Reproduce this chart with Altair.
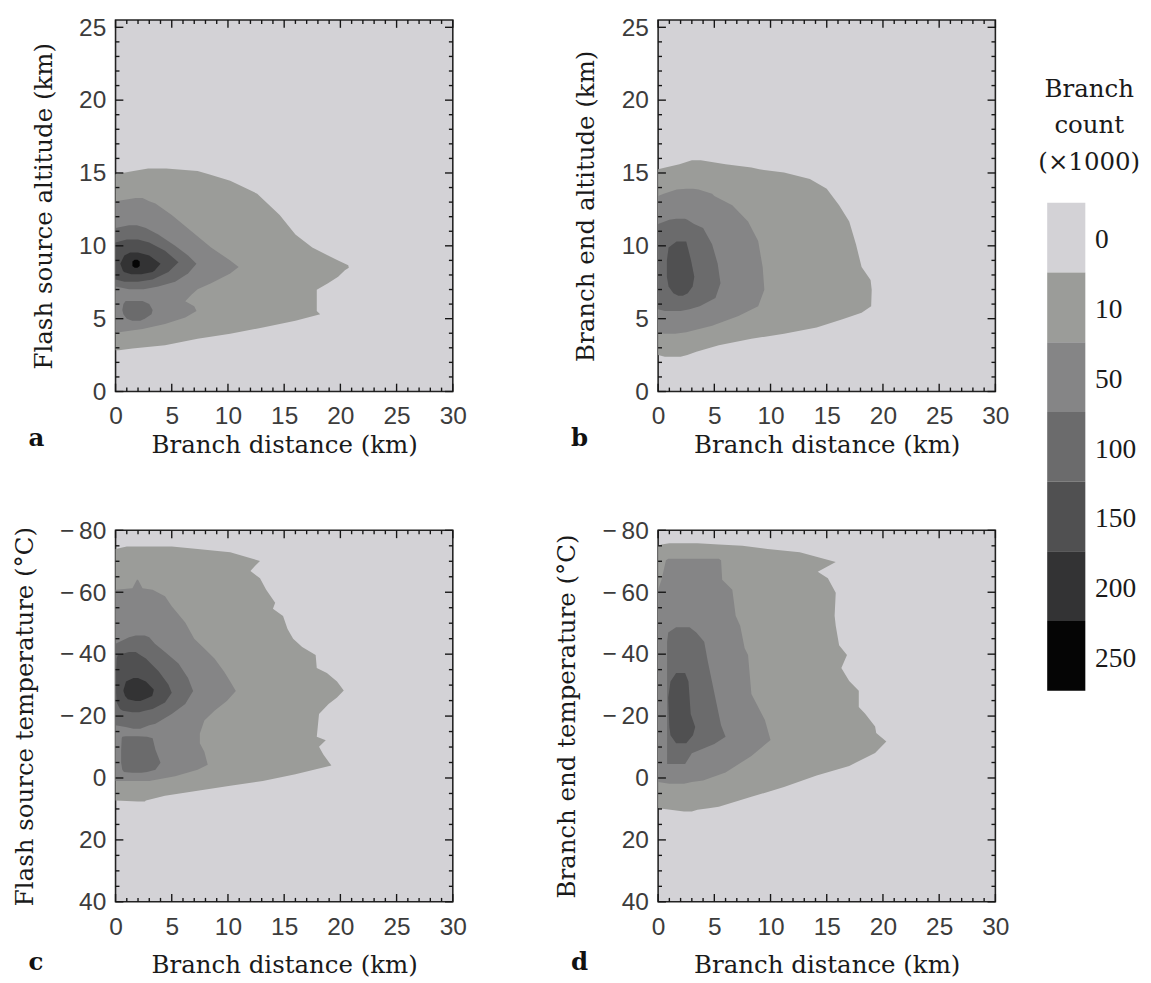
import altair as alt
import pandas as pd

# ---------------- data ----------------
LEVEL_LABELS = ["0", "10", "50", "100", "150", "200", "250"]
LEVEL_COLORS = ["#d3d2d6", "#9b9c99", "#858586", "#6b6b6c", "#505051", "#333334", "#050505"]

X_MAJOR = [0, 5, 10, 15, 20, 25, 30]
X_MINOR = [1, 2, 3, 4, 6, 7, 8, 9, 11, 12, 13, 14, 16, 17, 18, 19, 21, 22, 23, 24, 26, 27, 28, 29]
ALT_MAJOR = [0, 5, 10, 15, 20, 25]
ALT_MINOR = [1, 2, 3, 4, 6, 7, 8, 9, 11, 12, 13, 14, 16, 17, 18, 19, 21, 22, 23, 24]
TEMP_MAJOR = [-80, -60, -40, -20, 0, 20, 40]
TEMP_MINOR = [-75, -70, -65, -55, -50, -45, -35, -30, -25, -15, -10, -5, 5, 10, 15, 25, 30, 35]
X_DOMAIN = [0, 30]
ALT_DOMAIN = [0, 25.5]
TEMP_DOMAIN = [-80, 40]

# contour regions: rows of (y, x_left, x_right)
A10 = [(2.84, 0.0, 0.3), (2.95, 0.0, 1.5), (3.17, 0.0, 4.4), (3.62, 0.0, 7.3), (3.96, 0.0, 10.2),
       (4.40, 0.0, 13.1), (4.85, 0.0, 16.0), (5.30, 0.0, 18.2), (5.52, 0.0, 17.9), (6.98, 0.0, 17.9),
       (7.43, 0.0, 18.9), (7.87, 0.0, 19.8), (8.32, 0.0, 20.4), (8.50, 0.0, 20.75), (8.66, 0.0, 20.7),
       (8.99, 0.0, 19.8), (9.33, 0.0, 18.9), (9.89, 0.0, 17.5), (10.78, 0.0, 16.0), (12.12, 0.0, 14.6),
       (13.58, 0.0, 12.6), (14.47, 0.0, 10.2), (14.92, 0.0, 8.3), (15.14, 1.6, 7.3), (15.30, 2.9, 4.5)]
A50 = [(4.07, 0.0, 0.3), (4.29, 0.0, 2.4), (4.63, 0.0, 4.4), (5.08, 0.0, 6.2), (5.52, 0.0, 7.2),
       (5.86, 0.0, 7.0), (6.19, 0.0, 6.2), (6.64, 0.0, 6.75), (7.02, 0.0, 7.3), (7.43, 0.0, 8.5),
       (8.10, 0.0, 10.2), (8.54, 0.0, 10.95), (8.99, 0.0, 10.2), (9.89, 0.0, 8.5), (11.00, 0.0, 6.75),
       (12.12, 0.0, 5.0), (12.91, 0.0, 3.55), (13.06, 0.0, 3.0), (13.28, 1.8, 2.4)]
A100_UP = [(7.02, 1.2, 2.5), (7.20, 0.0, 3.8), (7.54, 0.0, 5.3), (8.10, 0.0, 6.45), (8.77, 0.0, 7.2),
           (9.33, 0.0, 6.45), (10.00, 0.0, 5.3), (10.78, 0.0, 3.8), (11.23, 0.0, 2.7), (11.41, 1.2, 1.9)]
A100_LOW = [(4.85, 1.5, 2.2), (5.00, 1.0, 2.6), (5.30, 0.7, 3.2), (5.60, 0.6, 3.3), (6.00, 0.7, 3.0),
            (6.21, 0.9, 2.4)]
A150 = [(7.54, 0.8, 2.0), (7.69, 0.0, 3.3), (8.21, 0.0, 4.7), (8.88, 0.0, 5.6), (9.66, 0.0, 4.4),
        (10.22, 0.0, 3.0), (10.44, 1.0, 2.0)]
A200 = [(8.05, 1.4, 2.3), (8.21, 0.75, 3.3), (8.32, 0.64, 3.5), (8.77, 0.42, 4.0), (9.33, 0.78, 3.0),
        (9.55, 1.3, 2.0)]
A250 = [(8.50, 1.7, 1.95), (8.62, 1.5, 2.15), (8.92, 1.5, 2.15), (9.05, 1.7, 1.95)]

B10 = [(2.39, 0.6, 2.0), (2.50, 0.0, 2.6), (2.73, 0.0, 3.4), (3.17, 0.0, 5.4), (3.62, 0.0, 8.3),
       (3.96, 0.0, 11.2), (4.40, 0.0, 14.1), (4.96, 0.0, 16.4), (5.41, 0.0, 18.1), (5.86, 0.0, 18.95),
       (6.98, 0.0, 19.0), (7.65, 0.0, 18.9), (8.54, 0.0, 18.1), (10.11, 0.0, 17.6), (11.67, 0.0, 17.0),
       (12.79, 0.0, 16.1), (13.91, 0.0, 15.0), (14.58, 0.0, 13.5), (15.03, 0.0, 11.2), (15.25, 0.0, 9.0),
       (15.37, 0.65, 8.3), (15.60, 1.9, 6.0), (15.88, 3.0, 3.8)]
B50 = [(3.96, 0.5, 1.5), (4.07, 0.0, 2.5), (4.52, 0.0, 4.8), (5.19, 0.0, 7.15), (5.86, 0.0, 8.9),
       (6.98, 0.0, 9.45), (8.54, 0.0, 9.3), (10.33, 0.0, 8.9), (11.67, 0.0, 8.0), (12.79, 0.0, 6.6),
       (13.42, 0.0, 5.0), (13.58, 0.5, 4.8), (13.87, 1.65, 3.6), (13.91, 2.5, 3.1)]
B100 = [(5.52, 0.6, 2.0), (5.64, 0.0, 2.8), (5.86, 0.0, 3.7), (6.42, 0.0, 5.1), (7.43, 0.0, 5.55),
        (8.77, 0.0, 5.3), (10.11, 0.0, 4.8), (11.23, 0.0, 4.0), (11.50, 0.0, 3.2), (11.79, 1.0, 2.6),
        (11.85, 1.6, 2.4)]
B150 = [(6.57, 1.8, 2.2), (6.75, 1.36, 2.64), (7.20, 0.93, 3.07), (7.87, 0.78, 3.22), (8.99, 0.78, 2.93),
        (9.89, 0.93, 2.64), (10.29, 1.64, 2.5)]

C10 = [(-74.8, 1.0, 5.0), (-74.0, 0.0, 7.3), (-72.9, 0.0, 10.2), (-70.1, 0.0, 12.85), (-68.5, 0.0, 12.4),
       (-66.9, 0.0, 12.0), (-64.5, 0.0, 12.85), (-60.8, 0.0, 13.4), (-56.6, 0.0, 14.2), (-54.7, 0.0, 14.0),
       (-52.3, 0.0, 14.9), (-48.1, 0.0, 15.3), (-45.0, 0.0, 15.8), (-42.3, 0.0, 16.6), (-39.7, 0.0, 17.8),
       (-35.5, 0.0, 17.9), (-33.9, 0.0, 18.8), (-31.2, 0.0, 19.7), (-28.3, 0.0, 20.3), (-26.0, 0.0, 19.7),
       (-23.9, 0.0, 18.95), (-20.7, 0.0, 18.1), (-13.3, 0.0, 17.9), (-12.2, 0.0, 18.7), (-10.1, 0.0, 18.1),
       (-7.5, 0.0, 18.5), (-4.0, 0.0, 19.2), (-1.2, 0.0, 16.0), (1.0, 0.0, 13.1), (2.5, 0.0, 10.2),
       (4.1, 0.0, 7.3), (5.7, 0.0, 4.4), (7.3, 0.0, 2.7), (7.6, 2.0, 2.6)]
C50 = [(-64.0, 1.9, 2.0), (-61.3, 1.5, 2.4), (-60.8, 0.0, 3.3), (-58.7, 0.0, 4.4), (-55.5, 0.0, 5.0),
       (-50.2, 0.0, 6.2), (-45.0, 0.0, 7.0), (-41.8, 0.0, 7.9), (-38.6, 0.0, 8.8), (-34.4, 0.0, 9.65),
       (-31.2, 0.0, 10.2), (-28.1, 0.0, 10.7), (-24.9, 0.0, 9.9), (-21.7, 0.0, 8.8), (-18.6, 0.0, 7.9),
       (-14.4, 0.0, 7.5), (-11.2, 0.0, 7.5), (-8.5, 0.0, 7.9), (-4.3, 0.0, 8.2), (-2.7, 0.0, 7.3),
       (-0.6, 0.0, 5.3), (1.0, 0.0, 3.0)]
C100_UP = [(-46.0, 1.8, 2.6), (-45.5, 1.2, 3.0), (-43.4, 0.0, 3.5), (-40.7, 0.0, 4.4), (-37.0, 0.0, 5.6),
           (-32.3, 0.0, 6.45), (-28.1, 0.0, 6.9), (-23.9, 0.0, 6.2), (-20.7, 0.0, 5.0), (-17.5, 0.0, 3.55),
           (-17.0, 0.0, 3.0), (-16.5, 0.9, 2.6), (-15.9, 1.6, 2.2)]
C100_LOW = [(-13.5, 0.9, 2.0), (-13.3, 0.6, 2.8), (-12.8, 0.55, 3.3), (-9.1, 0.5, 3.55), (-4.9, 0.5, 4.0),
            (-2.7, 0.6, 3.55), (-1.9, 0.75, 2.8), (-1.7, 1.5, 2.3)]
C150 = [(-40.7, 1.2, 1.8), (-39.7, 0.2, 2.2), (-38.6, 0.1, 2.7), (-34.4, 0.05, 3.85), (-30.2, 0.05, 4.7),
        (-27.5, 0.05, 5.0), (-24.4, 0.1, 4.4), (-22.3, 0.4, 3.3), (-21.7, 0.65, 2.6), (-21.2, 1.5, 2.1)]
C200 = [(-32.3, 1.6, 2.0), (-31.2, 0.93, 2.7), (-28.6, 0.72, 3.4), (-28.1, 0.7, 3.38), (-26.5, 0.85, 3.26),
        (-25.4, 1.1, 2.6), (-24.9, 1.8, 2.2)]

D10 = [(-75.8, 1.0, 3.5), (-75.4, 0.3, 5.4), (-75.0, 0.0, 7.5), (-74.0, 0.0, 9.75), (-72.9, 0.0, 12.6),
       (-69.8, 0.0, 15.8), (-66.6, 0.0, 14.2), (-64.5, 0.0, 15.1), (-59.8, 0.0, 15.8), (-52.4, 0.0, 15.7),
       (-49.2, 0.0, 15.8), (-42.9, 0.0, 16.1), (-39.7, 0.0, 16.8), (-35.5, 0.0, 16.3), (-31.3, 0.0, 17.0),
       (-28.2, 0.0, 17.85), (-22.9, 0.0, 17.85), (-20.8, 0.0, 18.4), (-16.6, 0.0, 19.3), (-14.5, 0.0, 19.4),
       (-11.8, 0.0, 20.3), (-8.1, 0.0, 19.3), (-3.9, 0.0, 17.0), (-0.8, 0.0, 14.1), (2.9, 0.0, 11.2),
       (6.1, 0.0, 8.3), (9.3, 0.0, 5.4), (9.8, 0.0, 4.5), (10.3, 1.1, 3.5), (10.8, 2.3, 3.0)]
D50 = [(-70.8, 0.9, 5.4), (-70.3, 0.7, 5.6), (-64.0, 0.3, 5.7), (-60.8, 0.0, 6.6), (-52.4, 0.0, 6.9),
       (-49.2, 0.0, 7.3), (-41.9, 0.0, 7.7), (-39.7, 0.0, 8.0), (-27.1, 0.0, 8.3), (-18.7, 0.0, 9.5),
       (-15.5, 0.0, 9.75), (-12.3, 0.0, 10.0), (-7.1, 0.0, 8.3), (-1.8, 0.0, 6.0), (0.8, 0.0, 4.0),
       (1.3, 0.0, 3.0), (1.9, 1.0, 2.3)]
D100 = [(-48.7, 1.6, 2.8), (-47.0, 0.9, 3.4), (-44.0, 0.8, 4.1), (-38.0, 0.8, 4.4), (-31.0, 0.8, 4.8),
        (-24.0, 0.8, 5.2), (-17.0, 0.8, 5.6), (-13.3, 0.8, 6.0), (-11.0, 0.8, 5.0), (-8.0, 0.8, 3.0),
        (-4.5, 0.8, 2.4)]
D150 = [(-33.9, 1.6, 2.4), (-31.2, 1.1, 2.7), (-26.0, 0.9, 2.8), (-20.7, 0.95, 2.9), (-16.5, 1.0, 3.3),
        (-13.8, 1.1, 3.1), (-11.2, 1.6, 2.5)]

PANEL_A = [("10", "a10", A10), ("50", "a50", A50), ("100", "a100u", A100_UP), ("100", "a100l", A100_LOW),
           ("150", "a150", A150), ("200", "a200", A200), ("250", "a250", A250)]
PANEL_B = [("10", "b10", B10), ("50", "b50", B50), ("100", "b100", B100), ("150", "b150", B150)]
PANEL_C = [("10", "c10", C10), ("50", "c50", C50), ("100", "c100u", C100_UP), ("100", "c100l", C100_LOW),
           ("150", "c150", C150), ("200", "c200", C200)]
PANEL_D = [("10", "d10", D10), ("50", "d50", D50), ("100", "d100", D100), ("150", "d150", D150)]

# ---------------- layout / style ----------------
W, H = 345, 380
BG = LEVEL_COLORS[0]
TICK_COLOR = "#151515"
MAJOR_PX, MINOR_PX = 8, 4
LABEL_FONT = "Liberation Sans"
TITLE_FONT = "DejaVu Serif"
TEMP_LABELS = "datum.value < 0 ? '\u2212\u2009' + abs(datum.value) : datum.label"

AXIS_STYLE = dict(
    domain=False, ticks=False, grid=False, labels=True,
    labelFont=LABEL_FONT, labelFontSize=25, labelColor="#3c3c3c",
    labelFlush=False, titleFont=TITLE_FONT, titleFontSize=25,
    titleFontWeight="normal", titleColor="#1a1a1a",
)


def blob_frame(level, name, rows):
    return pd.DataFrame({
        "yv": [r[0] for r in rows],
        "xl": [r[1] for r in rows],
        "xr": [r[2] for r in rows],
        "blob": name,
        "level": level,
    })


def tick_frame(ydom, yrev, ymajor, yminor):
    """Inward tick segments on the four sides, lengths given in pixels."""
    y_bottom, y_top = (ydom[1], ydom[0]) if yrev else (ydom[0], ydom[1])
    y_per_px = (y_top - y_bottom) / H          # signed: points inward from the bottom edge
    x_per_px = (X_DOMAIN[1] - X_DOMAIN[0]) / W
    rows = []
    for vals, px in ((X_MAJOR, MAJOR_PX), (X_MINOR, MINOR_PX)):
        for v in vals:
            rows.append((v, v, y_bottom, y_bottom + px * y_per_px))
            rows.append((v, v, y_top, y_top - px * y_per_px))
    for vals, px in ((ymajor, MAJOR_PX), (yminor, MINOR_PX)):
        for v in vals:
            rows.append((X_DOMAIN[0], X_DOMAIN[0] + px * x_per_px, v, v))
            rows.append((X_DOMAIN[1], X_DOMAIN[1] - px * x_per_px, v, v))
    return pd.DataFrame(rows, columns=["tx1", "tx2", "ty1", "ty2"])


def panel(blobs, ydom, yrev, ymajor, yminor, ytitle, letter, xtitle_pad, letter_offset, label_expr=None):
    xs = alt.Scale(domain=X_DOMAIN, nice=False, zero=False)
    ys = alt.Scale(domain=ydom, reverse=yrev, nice=False, zero=False)
    xaxis = alt.Axis(values=X_MAJOR, title="Branch distance (km)", titlePadding=xtitle_pad,
                     labelPadding=13, **AXIS_STYLE)
    yargs = dict(values=ymajor, title=ytitle, titlePadding=23, labelPadding=10, **AXIS_STYLE)
    if label_expr:
        yargs["labelExpr"] = label_expr
    yaxis = alt.Axis(**yargs)

    layers = []
    first = True
    for lev in LEVEL_LABELS[1:]:
        frames = [blob_frame(l, n, rows) for (l, n, rows) in blobs if l == lev]
        if not frames:
            continue
        df = pd.concat(frames, ignore_index=True)
        col = LEVEL_COLORS[LEVEL_LABELS.index(lev)]
        if first:
            enc = dict(y=alt.Y("yv:Q", scale=ys, axis=yaxis), x=alt.X("xl:Q", scale=xs, axis=xaxis))
        else:
            enc = dict(y=alt.Y("yv:Q", scale=ys), x=alt.X("xl:Q", scale=xs))
        layers.append(
            alt.Chart(df).mark_area(orient="horizontal", color=col).encode(
                x2="xr:Q", detail="blob:N", **enc)
        )
        first = False

    layers.append(
        alt.Chart(tick_frame(ydom, yrev, ymajor, yminor)).mark_rule(
            color=TICK_COLOR, strokeWidth=1.4).encode(
            x=alt.X("tx1:Q", scale=xs), x2="tx2:Q",
            y=alt.Y("ty1:Q", scale=ys), y2="ty2:Q")
    )

    return alt.layer(*layers).properties(
        width=W, height=H,
        view=alt.ViewBackground(fill=BG, stroke="#222222", strokeWidth=1.6),
        title=alt.TitleParams(letter, orient="bottom", anchor="start", frame="group", dx=-89,
                              offset=letter_offset, baseline="alphabetic", font=TITLE_FONT, fontSize=25,
                              fontWeight="bold", color="#111111"),
    )


pa = panel(PANEL_A, ALT_DOMAIN, False, ALT_MAJOR, ALT_MINOR, "Flash source altitude (km)", "a", 4, -11)
pb = panel(PANEL_B, ALT_DOMAIN, False, ALT_MAJOR, ALT_MINOR, "Branch end altitude (km)", "b", 4, -11)
pc = panel(PANEL_C, TEMP_DOMAIN, True, TEMP_MAJOR, TEMP_MINOR, "Flash source temperature (\u00b0C)", "c", 14,
           -7, TEMP_LABELS)
pdd = panel(PANEL_D, TEMP_DOMAIN, True, TEMP_MAJOR, TEMP_MINOR, "Branch end temperature (\u00b0C)", "d", 14,
            -7, TEMP_LABELS)

# ---------------- legend ----------------
LEG_W, LEG_H = 39, 892
leg_df = pd.DataFrame({
    "label": LEVEL_LABELS,
    "color": LEVEL_COLORS,
    "top": list(range(len(LEVEL_LABELS))),
})
leg_df["bottom"] = leg_df["top"] + 1
leg_df["mid"] = leg_df["top"] + 0.5
ly = alt.Scale(domain=[-2.623, 9.888], reverse=True, nice=False, zero=False)

leg_bar = alt.Chart(leg_df).mark_rect().encode(
    y=alt.Y("top:Q", scale=ly, axis=None), y2="bottom:Q",
    color=alt.Color("color:N", scale=None, legend=None))
leg_text = alt.Chart(leg_df).mark_text(align="left", baseline="middle", dx=10, dy=3,
                                      font="Liberation Serif", fontSize=28, color="#1a1a1a").encode(
    y=alt.Y("mid:Q", scale=ly, axis=None), x=alt.value(LEG_W), text="label:N")
leg_title = alt.Chart(pd.DataFrame({"t": ["Branch\ncount\n(\u00d71000)"]})).mark_text(
    align="center", baseline="alphabetic", lineBreak="\n", lineHeight=37, font=TITLE_FONT,
    fontSize=25, color="#1a1a1a").encode(x=alt.value(43), y=alt.value(79), text="t:N")
legend = alt.layer(leg_bar, leg_text, leg_title).properties(width=LEG_W, height=LEG_H)

grid = alt.concat(pa, pb, pc, pdd, columns=2, spacing={"row": 61, "column": 88})
chart = alt.hconcat(grid, legend, spacing=28)

chart = chart.configure(padding={"left": 3, "top": -5, "right": 2, "bottom": 5}).configure_view(
    strokeWidth=0
)

chart.save("out.html", embed_options={"renderer": "svg", "actions": False})
